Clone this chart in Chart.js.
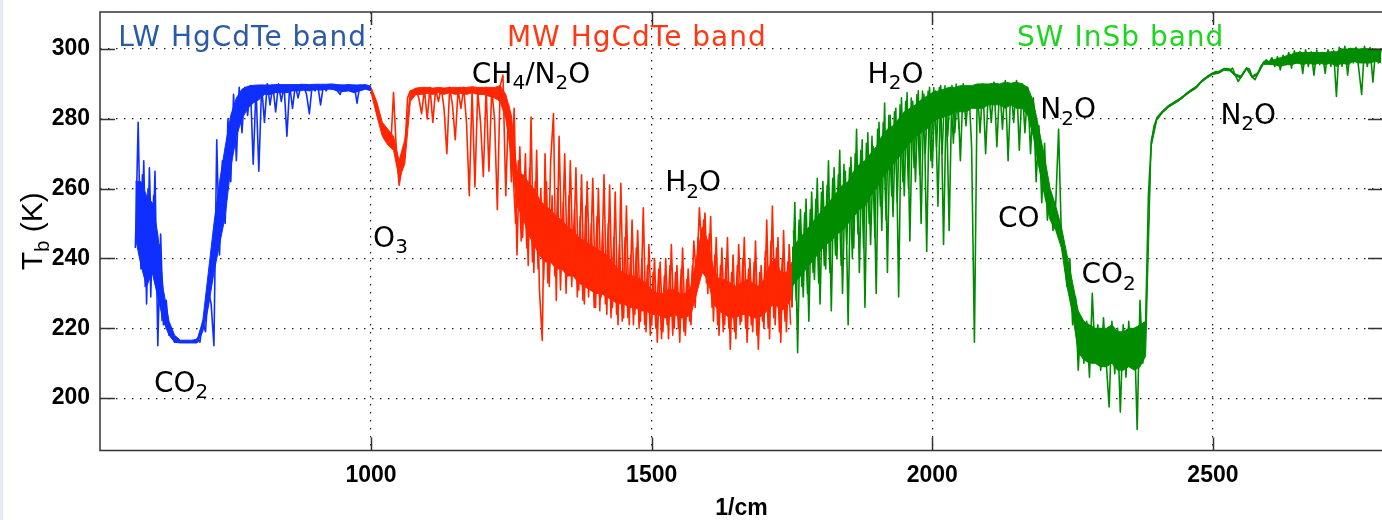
<!DOCTYPE html>
<html>
<head>
<meta charset="utf-8">
<title>Brightness temperature spectrum</title>
<script src="https://cdn.jsdelivr.net/npm/chart.js@4.4.1/dist/chart.umd.min.js"></script>
<style>
  html, body { margin: 0; padding: 0; background: #fff; overflow: hidden; }
  #wrap { position: relative; width: 1382px; height: 520px; overflow: hidden; }
  #wrap canvas { display: block; }
  #edge { position: absolute; left: 0; top: 0; width: 3px; height: 520px; background: #e8eaf1; }
</style>
</head>
<body>
<div id="wrap">
  <canvas id="spectrumChart" width="1386" height="520"></canvas>
  <div id="edge"></div>
</div>
<script>
// Sampling grid of the spectrum (1/cm)
const step = 5;
const coreStep = 10;
const lwStart = 580;
const mwStart = 1000;
const swStart = 1750;
// second, interleaved trace in the dense parts
const lw2Start = 582.5;
const mw2Start = 1252.5;
const sw2Start = 1752.5;

// Brightness temperature (K) incl. line spikes
const lwTb = [
  243, 279, 237, 268, 227, 266, 236, 265, 215, 247,
  221, 228, 218, 219, 216, 216.5, 216, 216, 216, 216,
  216, 216.3, 217, 216, 222, 219, 231, 227, 215, 274,
  241, 268, 250, 280, 262, 287, 268, 289, 276, 289,
  281, 289.5, 267, 289, 265, 289.5, 279, 290, 284, 289.5,
  282, 290, 285, 289.5, 275, 289.5, 283, 289.6, 286, 289.8,
  289.5, 287, 281.5, 289.6, 288, 289.7, 284, 289.5, 288, 289.8,
  288.5, 289.7, 288, 287, 289.6, 288.5, 289.7, 288, 289.6, 284.5,
  289.7, 288.5, 289.5, 289, 288.7
];
const lwTb2 = [262, 241, 264, 232, 260, 229, 258, 238, 244, 222];

const mwTb = [
  288.5, 286, 282, 279, 276, 274, 276.5, 272, 287.5, 271,
  261, 266, 270, 286, 288, 287.5, 288.5, 286, 281.5, 288.5,
  280, 289, 279, 288.5, 285, 288.8, 283, 270, 289, 284,
  274, 288.5, 283, 289, 279, 258, 288.5, 260.5, 288, 279,
  263.5, 289, 265, 288.5, 280, 254, 289.5, 292.5, 258, 284,
  262, 283, 241, 272, 246, 270, 238, 280.5, 236, 271,
  231, 216.5, 270, 233, 268, 281.5, 228, 275, 240, 270,
  235, 268, 237, 266, 231, 264, 227, 262, 233, 263,
  226, 260, 229, 264, 224, 261, 226, 259, 221, 261.5,
  223, 255, 221, 251, 224, 248, 222, 254.5, 219, 244,
  221, 240, 216, 239, 219, 240, 217, 244, 220, 238,
  216, 243, 218, 237, 221, 245, 234, 254.5, 240, 253,
  230, 252, 222, 246, 218, 243, 221, 246, 214, 241,
  217, 244, 222, 246, 216, 240, 219, 245, 214, 238,
  220, 251, 217, 255, 221, 246, 216, 248, 219, 244,
  226
];
const mwTb2 = [
  266, 250, 268, 245, 264, 243, 266, 239, 262, 237,
  260, 234, 262, 232, 258, 235, 260, 231, 256, 230,
  258, 232, 254, 229, 252, 228, 255, 229, 250, 226,
  252, 225, 248, 227, 250, 223, 246, 224, 244, 222,
  246, 223, 241, 221, 243, 220, 240, 221, 238, 218,
  236, 220, 237, 217, 235, 221, 238, 218, 236, 220,
  237, 219, 234, 222, 238, 226, 246, 236, 251, 233,
  247, 226, 241, 221, 238, 219, 240, 220, 236, 219,
  238, 221, 240, 220, 237, 221, 239, 218, 236, 222,
  242, 220, 245, 223, 243, 219, 240, 222, 239, 221
];

const swTb = [
  226, 256, 213, 254, 229, 257, 222, 259, 234, 263,
  227, 262, 237, 268, 225, 266, 240, 271, 230, 265,
  221, 269, 243, 277, 236, 274, 226, 276, 244, 272,
  230, 279, 248, 284.5, 236, 281, 252, 283, 229, 286,
  258, 287.5, 245, 285, 262, 288, 250, 287, 242, 289,
  266, 288, 255, 289.5, 244, 287.5, 248, 289.5, 276, 288.5,
  268, 290, 278, 289, 272, 216, 289.5, 276, 290, 270,
  289, 279, 290.5, 272, 289.5, 277, 291, 268, 289.5, 279,
  291, 271, 290, 276, 289, 270, 286, 262, 278, 256,
  273, 251, 259, 248, 256, 277, 246, 241, 232, 240,
  221, 229, 208, 223, 210, 222, 206, 230, 212, 221,
  208, 223, 210, 197.5, 222, 207, 220, 196, 221, 206,
  222, 209, 220, 191, 228, 210, 221, 258, 273, 278,
  280, 281, 282, 282.5, 283.5, 284, 284.5, 285, 285.5, 286,
  286.8, 287.5, 288, 288.5, 289, 290, 290.8, 291.5, 292, 292.6,
  293, 293.5, 293.3, 293.8, 294.2, 294.4, 294, 294.5, 292.5, 290.7,
  292, 293.5, 294.5, 294.3, 292, 291.2, 293, 295, 296, 296.9,
  296, 297.5, 295, 297.8, 294, 298.2, 295.5, 299, 294.5, 299.5,
  296, 299.3, 293, 299.8, 295, 299.2, 292.5, 299.6, 295.5, 299,
  293, 299.8, 295, 299.5, 286.4, 300.5, 295, 300.8, 292.5, 300.2,
  296, 300.5, 294, 287, 300.8, 295, 300.4, 290.5, 300, 296, 300.2
];
const swTb2 = [
  248, 228, 251, 232, 253, 230, 254, 236, 257, 233,
  259, 238, 261, 236, 263, 241, 264, 238, 267, 244,
  266, 240, 270, 247, 271, 243, 273, 250, 275, 246,
  277, 255, 279, 251, 281, 258, 282, 256, 284, 262,
  285, 260, 286, 266, 287, 264, 288, 270, 288, 268,
  289, 272, 289, 270, 289.5, 275, 289, 273, 290, 277
];

// Dense core of each band (lower / upper edge, K), every 10 1/cm
const lwCoreLo = [
  246, 238, 232, 236, 229, 222, 218, 216, 215.8, 215.8,
  215.8, 215.8, 219, 226, 236, 244, 252, 266, 275, 280,
  283, 284.5, 285.5, 287, 287, 287.5, 287.5, 287.5, 288, 288,
  288.2, 288, 288.4, 288.2, 288.5, 288.5, 288, 287.8, 288, 287.5,
  288, 288.5, 288
];
const lwCoreHi = [
  262, 262, 258, 256, 247, 231, 222, 218, 216.6, 216.6,
  216.6, 216.8, 222, 236, 250, 262, 272, 281, 286, 288.5,
  289.3, 289.6, 289.7, 289.7, 289.7, 289.8, 289.8, 289.8, 289.8, 289.8,
  289.9, 289.8, 289.9, 289.9, 289.9, 290, 289.8, 289.7, 289.8, 289.7,
  289.7, 289.8, 289.3
];
const mwCoreLo = [
  287.5, 281, 275, 272.5, 271, 263, 267, 285, 287, 287,
  287.3, 287, 287.5, 287, 287.5, 287, 287.3, 287, 287.5, 287,
  287, 286.5, 286, 285, 280, 269, 255, 252, 247, 244,
  241, 239, 239, 237, 237, 235, 235, 233, 232, 231,
  230, 230, 229, 228, 227, 227, 226, 226, 225, 225,
  224, 224, 223, 223, 224, 223, 223, 224, 230, 236,
  234, 227, 225, 224, 223, 223, 224, 224, 223, 223,
  224, 226, 227, 225, 226, 229
];
const mwCoreHi = [
  289, 285, 279, 277, 275, 268, 274, 288, 288.8, 289,
  289, 288.8, 289, 288.8, 289, 289, 289, 289, 289.2, 289,
  289, 289, 289, 289.5, 287, 281, 265, 264, 262, 260,
  257, 255, 254, 252, 251, 249, 248, 246, 245, 244,
  243, 242, 241, 239, 237, 236, 235, 235, 234, 233,
  231, 230, 230, 231, 231, 230, 230, 232, 240, 249,
  245, 237, 234, 234, 233, 232, 233, 234, 233, 232,
  234, 238, 240, 236, 236, 239
];
const swCoreLo = [
  232, 234, 236, 238, 240, 242, 244, 245, 247, 248,
  250, 252, 254, 255, 258, 260, 263, 265, 267, 269,
  271, 273, 275, 276, 277, 279, 280, 280.5, 281, 282,
  282, 282, 283, 283, 283, 284, 284, 284, 283, 284,
  283, 283, 281, 275, 266, 258, 251, 248, 243, 232,
  224, 213, 211, 210, 210, 209, 209, 210, 208, 208,
  209, 208, 209, 212, 272, 279.5, 281.7, 283.2, 284.2, 285.2,
  286.5, 287.7, 288.7, 290.5, 291.7, 292.7, 293, 293.9, 293.7, 292.2,
  291.7, 294.2, 291.7, 292.7, 295.6, 295.6, 295.5, 295, 295.5, 295.5,
  296, 295.5, 296, 295.5, 296, 295.5, 296, 295, 296, 295.5,
  296.5, 296, 296, 296, 296.5, 296
];
const swCoreHi = [
  243, 245, 247, 249, 251, 253, 255, 257, 259, 261,
  262, 265, 267, 268, 270, 272, 275, 277, 278, 280,
  282, 283, 284, 285.5, 286.5, 287.5, 288, 288.5, 289, 289,
  289.5, 289.5, 289.5, 290, 290, 290, 290.2, 290, 290.5, 290.2,
  290.5, 290, 289, 285, 277, 269, 260, 255, 249, 241,
  233, 225, 222, 221, 220, 220, 220, 221, 219, 219,
  220, 220, 221, 222, 274, 280.5, 282.3, 283.8, 284.8, 285.8,
  287, 288.3, 289.3, 291, 292.3, 293.3, 293.6, 294.5, 294.3, 292.8,
  292.3, 294.8, 292.3, 293.3, 296.4, 296.5, 297, 297.5, 298, 298.5,
  299, 299, 299, 299, 299, 299, 299.2, 299.2, 300, 300,
  300.2, 300, 300.2, 300, 300, 300
];

const xTicks = [1000, 1500, 2000, 2500];
const yTicks = [200, 220, 240, 260, 280, 300];

// Band captions and molecule labels, anchored in data units (left, baseline)
const bandLabels = [
  { text: 'LW HgCdTe band', x: 549.6, y: 301, color: '#2b5ba8' },
  { text: 'MW HgCdTe band', x: 1242, y: 301, color: '#ff3914' },
  { text: 'SW InSb band', x: 2151, y: 301, color: '#1fd61f' }
];
const molLabels = [
  { parts: [['CO', 0], ['2', 1]], x: 613, y: 201.8 },
  { parts: [['O', 0], ['3', 1]], x: 1003.6, y: 243.4 },
  { parts: [['CH', 0], ['4', 1], ['/N', 0], ['2', 1], ['O', 0]], x: 1179.5, y: 290.3 },
  { parts: [['H', 0], ['2', 1], ['O', 0]], x: 1524, y: 259.2 },
  { parts: [['H', 0], ['2', 1], ['O', 0]], x: 1884.7, y: 290.3 },
  { parts: [['N', 0], ['2', 1], ['O', 0]], x: 2192.5, y: 280.2 },
  { parts: [['CO', 0]], x: 2117, y: 249.1 },
  { parts: [['CO', 0], ['2', 1]], x: 2265.6, y: 232.9 },
  { parts: [['N', 0], ['2', 1], ['O', 0]], x: 2513.3, y: 278.6 }
];

const blue = '#0f2fff';
const red = '#ff2600';
const green = '#008c00';

function toPoints(start, spacing, values) {
  return values.map((t, i) => ({ x: start + i * spacing, y: t }));
}

function trace(label, start, values, color, width) {
  return { label, data: toPoints(start, step, values), borderColor: color, borderWidth: width };
}

function core(start, lo, hi, color) {
  return [
    { data: toPoints(start, coreStep, lo), borderColor: color, borderWidth: 1, fill: false },
    { data: toPoints(start, coreStep, hi), borderColor: color, borderWidth: 1, backgroundColor: color, fill: '-1' }
  ];
}

const labelFont = "'DejaVu Sans', sans-serif";

const annotations = {
  id: 'annotations',
  afterDatasetsDraw(chart) {
    const { ctx, scales: { x, y } } = chart;
    ctx.save();
    ctx.textBaseline = 'alphabetic';
    ctx.textAlign = 'left';
    ctx.letterSpacing = '1px';
    bandLabels.forEach(b => {
      ctx.font = '28px ' + labelFont;
      ctx.fillStyle = b.color;
      ctx.fillText(b.text, x.getPixelForValue(b.x), y.getPixelForValue(b.y));
    });
    ctx.letterSpacing = '0px';
    ctx.fillStyle = '#000';
    molLabels.forEach(m => {
      let px = x.getPixelForValue(m.x);
      const py = y.getPixelForValue(m.y);
      m.parts.forEach(([s, sub]) => {
        ctx.font = (sub ? '20px ' : '28px ') + labelFont;
        ctx.fillText(s, px, py + (sub ? 6.5 : 0));
        px += ctx.measureText(s).width;
      });
    });
    ctx.restore();
  },
  afterDraw(chart) {
    const { ctx, chartArea: a, scales: { x, y } } = chart;
    ctx.save();
    // frame and inward ticks
    ctx.strokeStyle = '#333';
    ctx.lineWidth = 1.5;
    ctx.strokeRect(a.left, a.top, a.right - a.left, a.bottom - a.top);
    ctx.beginPath();
    xTicks.forEach(v => {
      const px = Math.round(x.getPixelForValue(v)) + 0.5;
      ctx.moveTo(px, a.bottom); ctx.lineTo(px, a.bottom - 13);
      ctx.moveTo(px, a.top); ctx.lineTo(px, a.top + 13);
    });
    yTicks.forEach(v => {
      const py = Math.round(y.getPixelForValue(v)) + 0.5;
      ctx.moveTo(a.left, py); ctx.lineTo(a.left + 15, py);
      ctx.moveTo(a.right, py); ctx.lineTo(a.right - 15, py);
    });
    ctx.stroke();

    // y axis title with subscript
    ctx.translate(42, (a.top + a.bottom) / 2);
    ctx.rotate(-Math.PI / 2);
    ctx.fillStyle = '#000';
    const big = "30px 'Liberation Sans', Arial, sans-serif";
    const small = "20px 'Liberation Sans', Arial, sans-serif";
    ctx.font = big; const wT = ctx.measureText('T').width; const wK = ctx.measureText(' (K)').width;
    ctx.font = small; const wb = ctx.measureText('b').width;
    let cx = -(wT + wb + wK) / 2;
    ctx.font = big; ctx.fillText('T', cx, 0); cx += wT;
    ctx.font = small; ctx.fillText('b', cx, 7); cx += wb;
    ctx.font = big; ctx.fillText(' (K)', cx, 0);
    ctx.restore();
  }
};

const tickFont = { family: "'Liberation Sans', Arial, sans-serif", size: 23, weight: 'bold' };

const ctx = document.getElementById('spectrumChart').getContext('2d');
const spectrumChart = new Chart(ctx, {
  type: 'line',
  data: {
    datasets: [
      trace('LW HgCdTe band', lwStart, lwTb, blue, 1.6),
      trace('MW HgCdTe band', mwStart, mwTb, red, 1.6),
      trace('SW InSb band', swStart, swTb, green, 1.6),
      trace('LW (2)', lw2Start, lwTb2, blue, 1.5),
      trace('MW (2)', mw2Start, mwTb2, red, 1.5),
      trace('SW (2)', sw2Start, swTb2, green, 1.5),
      ...core(lwStart, lwCoreLo, lwCoreHi, blue),
      ...core(mwStart, mwCoreLo, mwCoreHi, red),
      ...core(swStart, swCoreLo, swCoreHi, green)
    ]
  },
  options: {
    responsive: false,
    animation: false,
    parsing: false,
    layout: { padding: { left: 0, top: 12, right: 3, bottom: 0 } },
    elements: {
      line: { tension: 0, borderJoinStyle: 'round', fill: false },
      point: { radius: 0 }
    },
    plugins: { legend: { display: false }, tooltip: { enabled: false } },
    scales: {
      x: {
        type: 'linear',
        min: 517,
        max: 2803,
        afterBuildTicks: s => { s.ticks = xTicks.map(v => ({ value: v })); },
        afterFit: s => { s.height = 69.5; s.paddingLeft = 0; s.paddingRight = 0; },
        grid: { color: '#222', lineWidth: 1.2, drawTicks: false },
        border: { display: false, dash: [1.5, 6.5] },
        ticks: { color: '#000', font: tickFont, padding: 11, maxRotation: 0, callback: v => String(v) },
        title: {
          display: true, text: '1/cm', color: '#000',
          font: { family: "'Liberation Sans', Arial, sans-serif", size: 23, weight: 'bold', lineHeight: 1 },
          padding: { top: 0, bottom: 0 }
        }
      },
      y: {
        type: 'linear',
        min: 185,
        max: 310.6,
        afterBuildTicks: s => { s.ticks = yTicks.map(v => ({ value: v })); },
        afterFit: s => { s.width = 100; s.paddingTop = 0; s.paddingBottom = 0; },
        grid: { color: '#222', lineWidth: 1.2, drawTicks: false },
        border: { display: false, dash: [1.5, 6.5] },
        ticks: { color: '#000', font: tickFont, padding: 10, callback: v => String(v) }
      }
    }
  },
  plugins: [annotations]
});
</script>
</body>
</html>
